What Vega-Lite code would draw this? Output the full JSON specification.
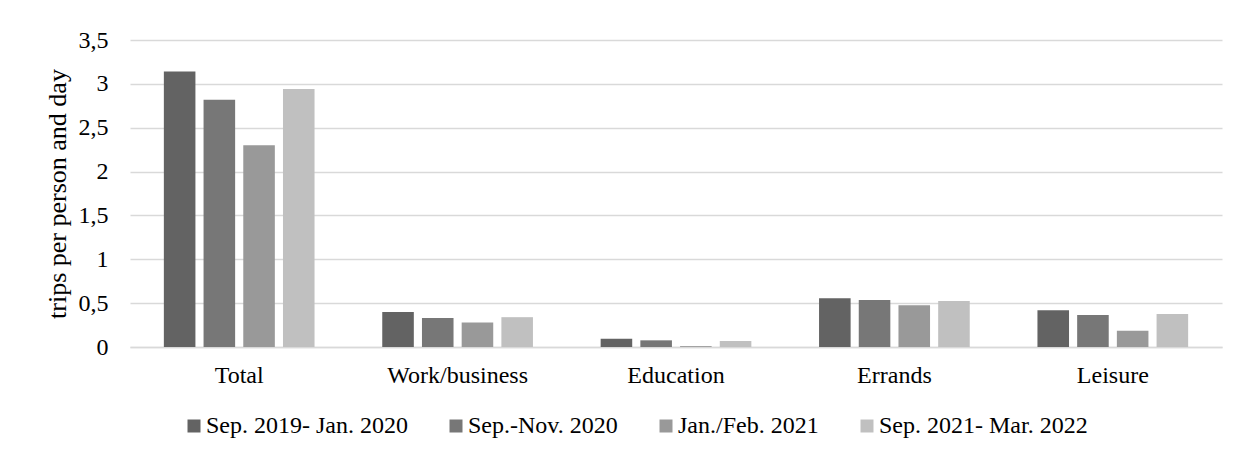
{
  "$schema": "https://vega.github.io/schema/vega-lite/v6.json",
  "width": 1092,
  "height": 307,
  "autosize": {"type": "none"},
  "padding": {"left": 130, "top": 40, "right": 19, "bottom": 112},
  "background": "white",
  "config": {
    "font": "Liberation Serif, serif",
    "view": {"stroke": null},
    "axis": {"labelFont": "Liberation Serif, serif", "titleFont": "Liberation Serif, serif", "labelColor": "black", "titleColor": "black"},
    "legend": {"labelFont": "Liberation Serif, serif", "labelColor": "black"}
  },
  "data": {
    "values": [
      {"purpose": "Total", "period": "Sep. 2019- Jan. 2020", "value": 3.14},
      {"purpose": "Total", "period": "Sep.-Nov. 2020", "value": 2.82},
      {"purpose": "Total", "period": "Jan./Feb. 2021", "value": 2.30},
      {"purpose": "Total", "period": "Sep. 2021- Mar. 2022", "value": 2.94},
      {"purpose": "Work/business", "period": "Sep. 2019- Jan. 2020", "value": 0.40},
      {"purpose": "Work/business", "period": "Sep.-Nov. 2020", "value": 0.33},
      {"purpose": "Work/business", "period": "Jan./Feb. 2021", "value": 0.28},
      {"purpose": "Work/business", "period": "Sep. 2021- Mar. 2022", "value": 0.34},
      {"purpose": "Education", "period": "Sep. 2019- Jan. 2020", "value": 0.095},
      {"purpose": "Education", "period": "Sep.-Nov. 2020", "value": 0.076},
      {"purpose": "Education", "period": "Jan./Feb. 2021", "value": 0.01},
      {"purpose": "Education", "period": "Sep. 2021- Mar. 2022", "value": 0.068},
      {"purpose": "Errands", "period": "Sep. 2019- Jan. 2020", "value": 0.555},
      {"purpose": "Errands", "period": "Sep.-Nov. 2020", "value": 0.536},
      {"purpose": "Errands", "period": "Jan./Feb. 2021", "value": 0.475},
      {"purpose": "Errands", "period": "Sep. 2021- Mar. 2022", "value": 0.525},
      {"purpose": "Leisure", "period": "Sep. 2019- Jan. 2020", "value": 0.42},
      {"purpose": "Leisure", "period": "Sep.-Nov. 2020", "value": 0.365},
      {"purpose": "Leisure", "period": "Jan./Feb. 2021", "value": 0.186},
      {"purpose": "Leisure", "period": "Sep. 2021- Mar. 2022", "value": 0.376}
    ]
  },
  "mark": {"type": "bar"},
  "encoding": {
    "x": {
      "field": "purpose",
      "type": "nominal",
      "sort": ["Total", "Work/business", "Education", "Errands", "Leisure"],
      "scale": {"paddingInner": 0.31, "paddingOuter": 0.155},
      "axis": {
        "title": null,
        "labelAngle": 0,
        "labelFont": "Liberation Serif, serif",
        "labelFontSize": 24,
        "labelPadding": 16,
        "ticks": false,
        "domain": true,
        "domainColor": "#d9d9d9",
        "domainWidth": 1.5
      }
    },
    "xOffset": {
      "field": "period",
      "type": "nominal",
      "sort": ["Sep. 2019- Jan. 2020", "Sep.-Nov. 2020", "Jan./Feb. 2021", "Sep. 2021- Mar. 2022"],
      "scale": {"paddingInner": 0.205, "paddingOuter": 0}
    },
    "y": {
      "field": "value",
      "type": "quantitative",
      "scale": {"domain": [0, 3.5], "nice": false},
      "axis": {
        "title": "trips per person and day",
        "titleFont": "Liberation Serif, serif",
        "titleFontSize": 26,
        "titleFontWeight": "normal",
        "titlePadding": 8,
        "values": [0, 0.5, 1, 1.5, 2, 2.5, 3, 3.5],
        "labelExpr": "replace(format(datum.value, '.1~f'), '.', ',')",
        "labelFont": "Liberation Serif, serif",
        "labelFontSize": 24,
        "labelPadding": 22,
        "ticks": false,
        "domain": false,
        "gridColor": "#d9d9d9",
        "gridWidth": 1.5
      }
    },
    "color": {
      "field": "period",
      "type": "nominal",
      "sort": ["Sep. 2019- Jan. 2020", "Sep.-Nov. 2020", "Jan./Feb. 2021", "Sep. 2021- Mar. 2022"],
      "scale": {
        "domain": ["Sep. 2019- Jan. 2020", "Sep.-Nov. 2020", "Jan./Feb. 2021", "Sep. 2021- Mar. 2022"],
        "range": ["#636363", "#777777", "#999999", "#c0c0c0"]
      },
      "legend": {
        "title": null,
        "orient": "none",
        "direction": "horizontal",
        "legendX": 52,
        "legendY": 374,
        "symbolType": "square",
        "symbolSize": 169,
        "symbolStrokeWidth": 0,
        "labelFont": "Liberation Serif, serif",
        "labelFontSize": 24,
        "labelOffset": 0,
        "columnPadding": 36,
        "labelLimit": 400
      }
    }
  }
}
